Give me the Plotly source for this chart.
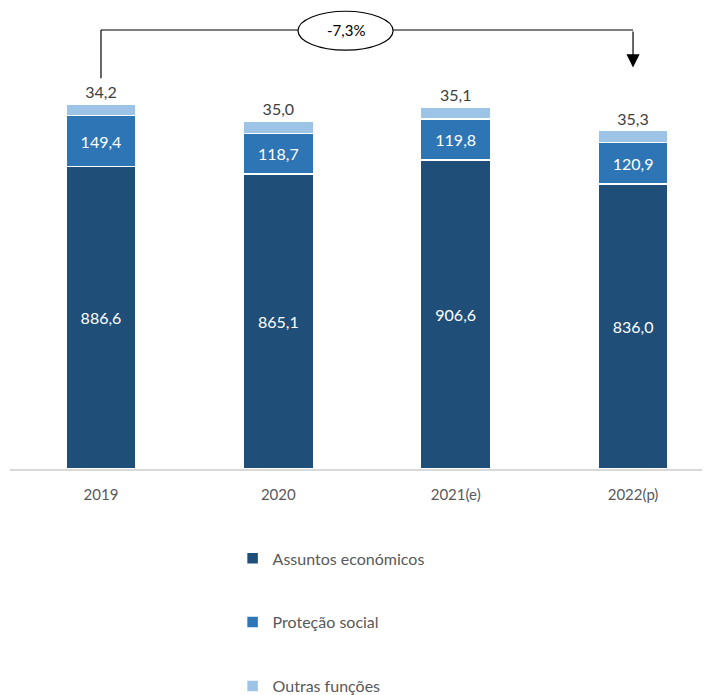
import plotly.graph_objects as go

categories = ["2019", "2020", "2021(e)", "2022(p)"]
assuntos = [886.6, 865.1, 906.6, 836.0]
protecao = [149.4, 118.7, 119.8, 120.9]
outras = [34.2, 35.0, 35.1, 35.3]
change_label = "-7,3%"

series = [
    ("Assuntos económicos", assuntos, "#1F4E79", "#FFFFFF"),
    ("Proteção social", protecao, "#2E75B6", "#FFFFFF"),
    ("Outras funções", outras, "#9DC3E6", "#404040"),
]

fig = go.Figure()
for i, (name, vals, color, tcol) in enumerate(series):
    fig.add_trace(go.Bar(
        x=categories, y=vals, name=name, legendgroup=name,
        marker=dict(color=color, line=dict(color="white", width=1.5)),
        width=0.395,
        texttemplate="%{y:.1f}",
        textposition="outside" if i == 2 else "inside",
        insidetextanchor="middle",
        textfont=dict(color=tcol, size=16, family="Lato"),
        outsidetextfont=dict(color="#404040", size=16, family="Lato"),
        cliponaxis=False,
    ))

totals = [a + b + c for a, b, c in zip(assuntos, protecao, outras)]
top_y = 1287
# bracket
fig.add_shape(type="line", x0=0, x1=0, y0=totals[0] + 75, y1=top_y, xref="x", yref="y",
              line=dict(color="black", width=1.2))
fig.add_shape(type="line", x0=0, x1=3, y0=top_y, y1=top_y, xref="x", yref="y",
              line=dict(color="black", width=1.2), layer="below")
fig.add_annotation(x=3, y=totals[3] + 185, ax=3, ay=top_y, xref="x", yref="y",
                   axref="x", ayref="y", text="", showarrow=True, arrowhead=2,
                   arrowsize=2.2, arrowwidth=1.2, arrowcolor="black")
fig.add_shape(type="circle", x0=1.111, x1=1.647, y0=1228, y1=1342, xref="x", yref="y",
              line=dict(color="black", width=1.2), fillcolor="white")
fig.add_annotation(x=1.379, y=1286, xref="x", yref="y", text=change_label, showarrow=False,
                   font=dict(size=15, color="black", family="Lato"))

fig.update_layout(
    width=702, height=687,
    margin=dict(l=2, r=0, t=0, b=226, autoexpand=False),
    barmode="stack",
    separators=", ",
    plot_bgcolor="white", paper_bgcolor="white",
    font=dict(family="Lato", color="#595959"),
    xaxis=dict(range=[-0.513, 3.434], showline=True, linecolor="#D9D9D9", linewidth=1.5,
               ticks="", tickfont=dict(size=15, color="#595959"), ticklabelstandoff=11),
    yaxis=dict(range=[0, 1351.5], visible=False, showgrid=False),
    legend=dict(orientation="v", x=0.318, y=-0.157, xanchor="left", yanchor="top",
                traceorder="grouped", tracegroupgap=40,
                font=dict(size=16, color="#595959", family="Lato"), itemwidth=30),
    showlegend=True,
)

fig.write_html("out.html")
